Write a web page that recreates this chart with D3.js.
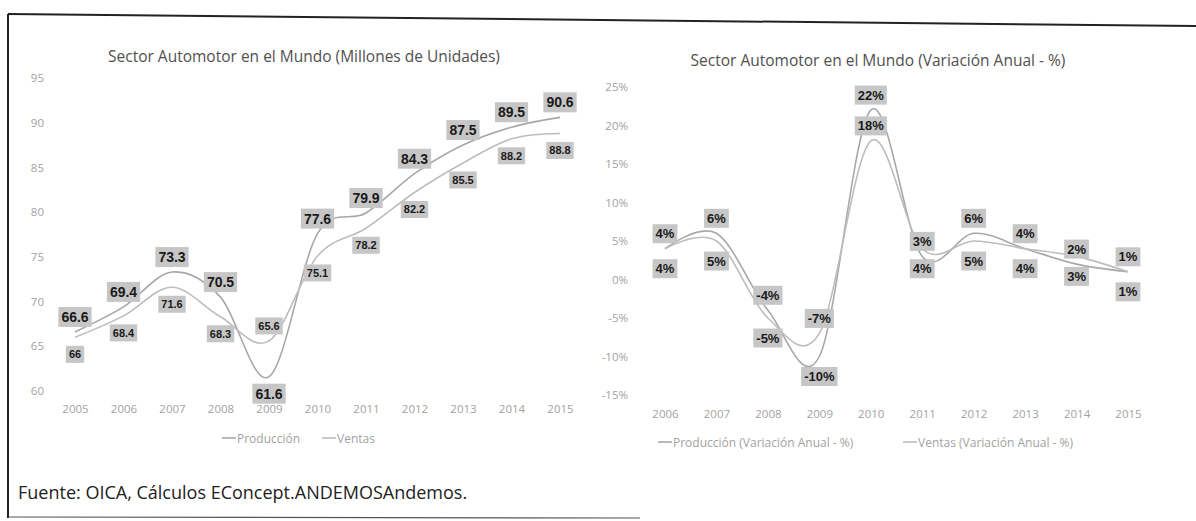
<!DOCTYPE html>
<html>
<head>
<meta charset="utf-8">
<script src="https://cdn.jsdelivr.net/npm/d3@7"></script>
<style>
  html, body { margin: 0; padding: 0; background: #fff; }
  svg { display: block; }
</style>
</head>
<body>
<svg id="chart" width="1196" height="521"></svg>
<script>
// ---- Data ----
const years = [2005, 2006, 2007, 2008, 2009, 2010, 2011, 2012, 2013, 2014, 2015];
const produccion = [66.6, 69.4, 73.3, 70.5, 61.6, 77.6, 79.9, 84.3, 87.5, 89.5, 90.6];
const ventas = [66, 68.4, 71.6, 68.3, 65.6, 75.1, 78.2, 82.2, 85.5, 88.2, 88.8];
const leftTicks = [60, 65, 70, 75, 80, 85, 90, 95];

const varYears = [2006, 2007, 2008, 2009, 2010, 2011, 2012, 2013, 2014, 2015];
const produccionVar = [4, 6, -4, -10, 22, 3, 6, 4, 2, 1];
const ventasVar = [4, 5, -5, -7, 18, 4, 5, 4, 3, 1];
const rightTicks = [-15, -10, -5, 0, 5, 10, 15, 20, 25];

const leftTitle = "Sector Automotor en el Mundo (Millones de Unidades)";
const rightTitle = "Sector Automotor en el Mundo (Variación Anual - %)";
const leftLegend = ["Producción", "Ventas"];
const rightLegend = ["Producción (Variación Anual - %)", "Ventas (Variación Anual - %)"];
const source = "Fuente: OICA, Cálculos EConcept.ANDEMOSAndemos.";

// ---- Styling / placement (not data) ----
const FONT = "'Open Sans', 'Liberation Sans', sans-serif";
const LABEL_FONT = "'Liberation Sans', Arial, sans-serif";
const axisColor = "#a2a2a2";
const lineColors = ["#a8a8a8", "#bdbdbd"];
const boxFill = "#c6c6c6";
// label placement: +1 above the point, -1 below
const leftPlace = [
  [1, 1, 1, 1, -1, 1, 1, 1, 1, 1, 1],
  [-1, -1, -1, -1, 1, -1, -1, -1, -1, -1, -1]
];
const rightPlace = [
  [1, 1, 1, -1, 1, 1, 1, 1, 1, 1],
  [-1, -1, -1, 1, 1, -1, -1, -1, -1, -1]
];

const svg = d3.select("#chart");

// Frame (scanned page border)
svg.append("line").attr("x1", 8).attr("y1", 14).attr("x2", 1196).attr("y2", 26)
  .attr("stroke", "#222").attr("stroke-width", 2);
svg.append("line").attr("x1", 8).attr("y1", 14).attr("x2", 8).attr("y2", 518)
  .attr("stroke", "#222").attr("stroke-width", 2);
svg.append("line").attr("x1", 8).attr("y1", 517).attr("x2", 640).attr("y2", 518)
  .attr("stroke", "#555").attr("stroke-width", 1.2);

function drawLabel(g, x, y, text, fontSize) {
  const t = g.append("text")
    .attr("x", x).attr("y", y)
    .attr("text-anchor", "middle")
    .attr("dominant-baseline", "central")
    .attr("font-family", LABEL_FONT)
    .attr("font-weight", "bold")
    .attr("font-size", fontSize)
    .attr("fill", "#1a1a1a")
    .text(text);
  const w = t.node().getComputedTextLength();
  const h = fontSize + 6;
  g.insert("rect", function() { return t.node(); })
    .attr("x", x - w / 2 - 3).attr("y", y - h / 2)
    .attr("width", w + 6).attr("height", h)
    .attr("fill", boxFill);
}

function drawPanel(cfg) {
  const g = svg.append("g");
  const x = d3.scalePoint().domain(cfg.cats).range(cfg.xRange);
  const y = d3.scaleLinear().domain(cfg.yDomain).range(cfg.yRange);

  // title
  g.append("text").attr("x", cfg.titleX).attr("y", cfg.titleY)
    .attr("text-anchor", "middle").attr("font-family", FONT)
    .attr("font-size", 15.5).attr("fill", "#505050").text(cfg.title);

  // y axis (labels only)
  const yAxis = d3.axisLeft(y).tickValues(cfg.yTicks).tickSize(0).tickPadding(0)
    .tickFormat(cfg.yFmt);
  const ya = g.append("g").attr("transform", `translate(${cfg.yAxisX},0)`).call(yAxis);
  ya.select(".domain").remove();
  ya.selectAll("text").attr("font-family", FONT).attr("font-size", 11.5)
    .attr("fill", axisColor);

  // x axis (labels only)
  const xAxis = d3.axisBottom(x).tickSize(0).tickPadding(0);
  const xa = g.append("g").attr("transform", `translate(0,${cfg.xAxisY})`).call(xAxis);
  xa.select(".domain").remove();
  xa.selectAll("text").attr("font-family", FONT).attr("font-size", 11.5)
    .attr("fill", axisColor);

  // lines
  const line = d3.line()
    .x((d, i) => x(cfg.cats[i]))
    .y(d => y(d))
    .curve(d3.curveCardinal.tension(0));
  cfg.series.forEach((s, k) => {
    g.append("path").datum(s).attr("d", line)
      .attr("fill", "none").attr("stroke", lineColors[k])
      .attr("stroke-width", 1.6);
  });

  // labels
  cfg.series.forEach((s, k) => {
    const lg = g.append("g");
    s.forEach((v, i) => {
      const px = x(cfg.cats[i]);
      const py = y(v);
      const up = cfg.place[k][i] > 0;
      const cy = up ? py - cfg.offUp : py + cfg.offDown;
      drawLabel(lg, px, cy, cfg.labelFmt(v), cfg.labelSize[k]);
    });
  });

  // legend
  cfg.legend.forEach((name, k) => {
    const lx = cfg.legendX[k];
    g.append("line").attr("x1", lx).attr("x2", lx + 14)
      .attr("y1", cfg.legendY).attr("y2", cfg.legendY)
      .attr("stroke", lineColors[k]).attr("stroke-width", 1.6);
    g.append("text").attr("x", lx + 15).attr("y", cfg.legendY)
      .attr("dominant-baseline", "central")
      .attr("font-family", FONT).attr("font-size", 12).attr("fill", axisColor)
      .text(name);
  });
}

drawPanel({
  cats: years,
  xRange: [75, 560],
  yDomain: [60, 95],
  yRange: [391, 78],
  yTicks: leftTicks,
  yFmt: d => String(d),
  yAxisX: 44,
  xAxisY: 405,
  title: leftTitle, titleX: 304, titleY: 62,
  series: [produccion, ventas],
  place: leftPlace,
  offUp: 15, offDown: 17,
  labelFmt: v => String(v),
  labelSize: [14, 11],
  legend: leftLegend, legendX: [222, 322], legendY: 438
});

drawPanel({
  cats: varYears,
  xRange: [665, 1128],
  yDomain: [-15, 25],
  yRange: [395, 87],
  yTicks: rightTicks,
  yFmt: d => d + "%",
  yAxisX: 628,
  xAxisY: 410,
  title: rightTitle, titleX: 878, titleY: 66,
  series: [produccionVar, ventasVar],
  place: rightPlace,
  offUp: 15, offDown: 20,
  labelFmt: v => v + "%",
  labelSize: [13, 13],
  legend: rightLegend, legendX: [658, 903], legendY: 442
});

// source note
svg.append("text").attr("x", 18).attr("y", 499)
  .attr("font-family", FONT).attr("font-size", 18).attr("fill", "#222")
  .text(source);
</script>
</body>
</html>
